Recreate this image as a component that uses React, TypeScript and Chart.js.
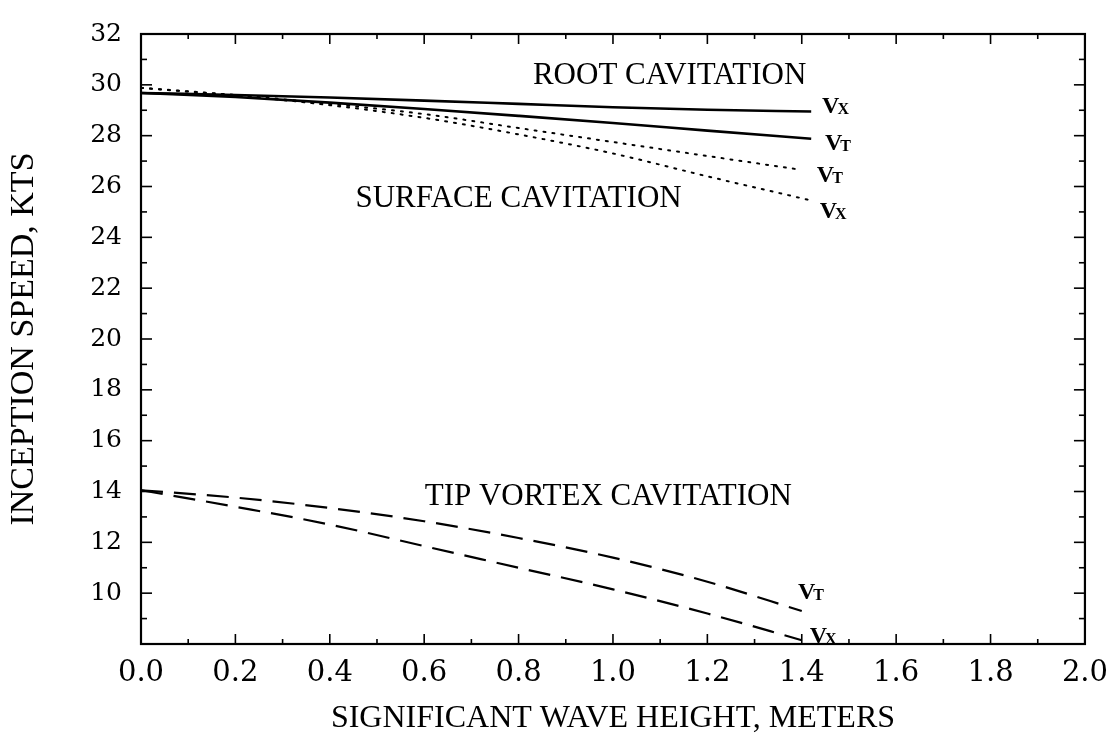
import React, { useEffect, useRef } from "react";
import { Chart, registerables } from "chart.js";

Chart.register(...registerables);

// ---- data ----
const rootH = [0, 0.2, 0.4, 0.6, 0.8, 1.0, 1.2, 1.42];
const rootVx = [29.68, 29.6, 29.5, 29.38, 29.25, 29.12, 29.02, 28.95];
const rootVt = [29.68, 29.52, 29.3, 29.05, 28.78, 28.5, 28.2, 27.88];

const surfVtH = [0, 0.2, 0.4, 0.6, 0.8, 1.0, 1.2, 1.39];
const surfVt = [29.88, 29.6, 29.25, 28.85, 28.3, 27.75, 27.2, 26.68];
const surfVxH = [0, 0.2, 0.4, 0.6, 0.8, 1.0, 1.2, 1.42];
const surfVx = [29.88, 29.58, 29.2, 28.7, 28.05, 27.3, 26.4, 25.45];

const tipH = [0, 0.2, 0.4, 0.6, 0.8, 1.0, 1.2, 1.4];
const tipVt = [14.05, 13.76, 13.35, 12.83, 12.17, 11.4, 10.45, 9.3];
const tipVx = [14.05, 13.4, 12.7, 11.85, 11.0, 10.15, 9.2, 8.15];

const regionLabels = ["ROOT CAVITATION", "SURFACE CAVITATION", "TIP VORTEX CAVITATION"];
const regionLabelX = [1.12, 0.8, 0.99];
const regionLabelY = [30.34, 25.5, 13.8];

const curveLabelSub = ["X", "T", "T", "X", "T", "X"];
const curveLabelX = [1.443, 1.449, 1.432, 1.438, 1.392, 1.417];
const curveLabelY = [29.22, 27.75, 26.51, 25.08, 10.09, 8.35];

const xTitle = "SIGNIFICANT WAVE HEIGHT, METERS";
const yTitle = "INCEPTION SPEED, KTS";

const pts = (xs: number[], ys: number[]) => xs.map((x, i) => ({ x, y: ys[i] }));

const framePlugin = {
  id: "frameAndLabels",
  afterDatasetsDraw(chart: any) {
    const { ctx, chartArea: a, scales } = chart;
    const xs = scales.x;
    const ys = scales.y;
    ctx.save();
    ctx.strokeStyle = "#000";
    ctx.lineWidth = 2.2;
    ctx.setLineDash([]);
    ctx.strokeRect(a.left, a.top, a.right - a.left, a.bottom - a.top);
    ctx.lineWidth = 1.6;
    const seg = (x1: number, y1: number, x2: number, y2: number) => {
      ctx.beginPath();
      ctx.moveTo(x1, y1);
      ctx.lineTo(x2, y2);
      ctx.stroke();
    };
    for (let i = 0; i <= 20; i++) {
      const px = xs.getPixelForValue(i / 10);
      const len = i % 2 === 0 ? 10 : 5;
      seg(px, a.bottom, px, a.bottom - len);
      seg(px, a.top, px, a.top + len);
    }
    for (let v = 8; v <= 32; v++) {
      const py = ys.getPixelForValue(v);
      const len = v % 2 === 0 ? 11 : 6;
      seg(a.left, py, a.left + len, py);
      seg(a.right, py, a.right - len, py);
    }
    ctx.fillStyle = "#000";
    ctx.font = '31px "Liberation Serif"';
    ctx.textAlign = "center";
    ctx.textBaseline = "middle";
    regionLabels.forEach((t, i) => {
      ctx.fillText(t, xs.getPixelForValue(regionLabelX[i]), ys.getPixelForValue(regionLabelY[i]));
    });
    ctx.textAlign = "left";
    ctx.textBaseline = "alphabetic";
    curveLabelSub.forEach((s, i) => {
      const px = xs.getPixelForValue(curveLabelX[i]);
      const py = ys.getPixelForValue(curveLabelY[i]) + 8;
      ctx.font = 'bold 24px "Liberation Serif"';
      ctx.fillText("V", px, py);
      const w = ctx.measureText("V").width;
      ctx.font = 'bold 16px "Liberation Serif"';
      ctx.fillText(s, px + w - 2, py + 1);
    });
    ctx.restore();
  },
};

export default function App() {
  const ref = useRef<HTMLCanvasElement | null>(null);
  useEffect(() => {
    document.body.style.margin = "0";
    const canvas = ref.current;
    if (!canvas) return;
    const solid = { borderColor: "#000", borderWidth: 2.6, pointRadius: 0, fill: false, cubicInterpolationMode: "monotone" as const };
    const dotted = { ...solid, borderWidth: 2, borderDash: [2, 7], borderCapStyle: "round" as const };
    const dashed = { ...solid, borderWidth: 2.2, borderDash: [22, 11] };
    const chart = new Chart(canvas, {
      type: "line",
      data: {
        datasets: [
          { label: "Root Vx", data: pts(rootH, rootVx), ...solid },
          { label: "Root Vt", data: pts(rootH, rootVt), ...solid },
          { label: "Surface Vt", data: pts(surfVtH, surfVt), ...dotted },
          { label: "Surface Vx", data: pts(surfVxH, surfVx), ...dotted },
          { label: "Tip Vt", data: pts(tipH, tipVt), ...dashed },
          { label: "Tip Vx", data: pts(tipH, tipVx), ...dashed },
        ],
      },
      options: {
        animation: false,
        responsive: false,
        devicePixelRatio: 1,
        layout: { padding: { top: 22, right: 28, left: 0, bottom: 0 } },
        plugins: { legend: { display: false }, tooltip: { enabled: false } },
        scales: {
          x: {
            type: "linear",
            min: 0,
            max: 2,
            grid: { display: false, drawTicks: false },
            border: { display: false },
            ticks: {
              stepSize: 0.2,
              color: "#000",
              padding: 12,
              maxRotation: 0,
              font: { family: "DejaVu Serif", size: 29 },
              callback: (v: any) => Number(v).toFixed(1),
            },
            title: {
              display: true,
              text: xTitle,
              color: "#000",
              font: { family: "Liberation Serif", size: 32 },
              padding: { top: 0, bottom: 4 },
            },
            afterFit: (s: any) => {
              s.height = 98;
            },
          },
          y: {
            type: "linear",
            min: 8,
            max: 32,
            grid: { display: false, drawTicks: false },
            border: { display: false },
            ticks: {
              stepSize: 2,
              color: "#000",
              padding: 19,
              font: { family: "DejaVu Serif", size: 25 },
              callback: (v: any) => (Number(v) === 8 ? "" : String(v)),
            },
            title: {
              display: true,
              text: yTitle,
              color: "#000",
              font: { family: "Liberation Serif", size: 34 },
              padding: { top: 4, bottom: 0 },
            },
            afterFit: (s: any) => {
              s.width = 141;
            },
          },
        },
      },
      plugins: [framePlugin],
    });
    return () => chart.destroy();
  }, []);
  return (
    <div style={{ width: 1120, height: 742, background: "#fff" }}>
      <canvas ref={ref} width={1120} height={742} style={{ display: "block" }} />
    </div>
  );
}
